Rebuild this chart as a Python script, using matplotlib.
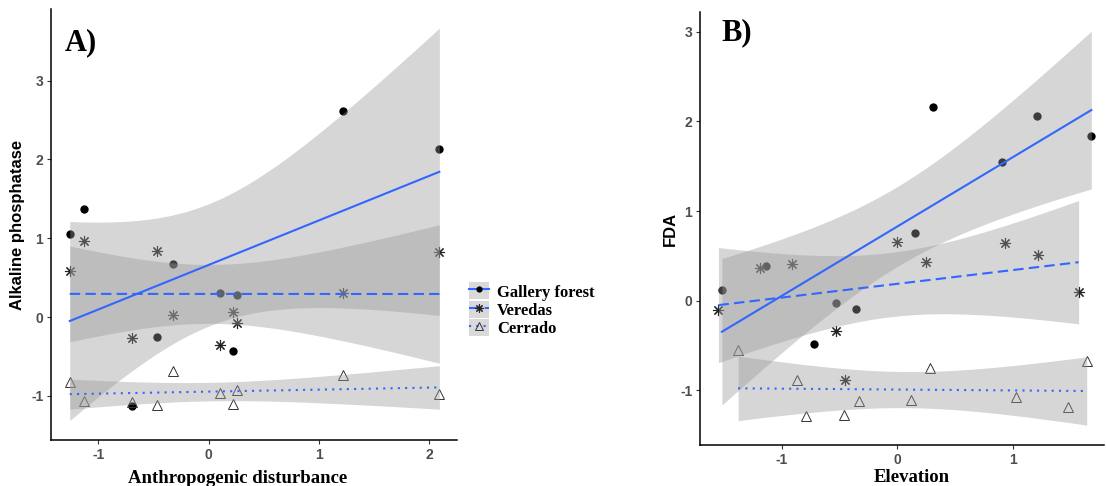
import numpy as np
import matplotlib.pyplot as plt
from matplotlib.lines import Line2D
from matplotlib.patches import Patch
from matplotlib.legend_handler import HandlerTuple

plt.rcParams['axes.unicode_minus'] = False

# A) alkaline phosphatase vs anthropogenic disturbance (same sites for all habitats)
dist_x = [-1.26, -1.13, -0.70, -0.47, -0.32, 0.10, 0.22, 0.26, 1.22, 2.09]
alp_gallery = [1.06, 1.37, -1.13, -0.25, 0.67, 0.31, -0.43, 0.28, 2.62, 2.13]
alp_veredas = [0.59, 0.97, -0.27, 0.84, 0.03, -0.35, 0.07, -0.07, 0.31, 0.82]
alp_cerrado = [-0.82, -1.06, -1.08, -1.12, -0.69, -0.96, -1.10, -0.93, -0.73, -0.97]

# B) FDA vs elevation
elev_gallery = [0.31, 1.21, 1.68, 0.91, 0.15, -1.52, -1.14, -0.53, -0.36, -0.72]
fda_gallery = [2.16, 2.06, 1.84, 1.55, 0.75, 0.12, 0.39, -0.03, -0.09, -0.48]
elev_veredas = [-1.55, -1.19, -0.91, -0.53, -0.45, 0.00, 0.25, 0.93, 1.22, 1.57]
fda_veredas = [-0.10, 0.36, 0.41, -0.34, -0.88, 0.65, 0.43, 0.64, 0.51, 0.10]
elev_cerrado = [-1.38, -0.87, -0.79, -0.46, -0.33, 0.12, 0.28, 1.03, 1.48, 1.64]
fda_cerrado = [-0.55, -0.89, -1.29, -1.27, -1.12, -1.11, -0.75, -1.08, -1.19, -0.67]

habitats = ['Gallery forest', 'Veredas', 'Cerrado']

BLUE = '#3366FF'
T975 = 2.306  # t quantile, 8 df
SERIF = 'Liberation Serif'
SANS = 'Liberation Sans'

styles = {
    'Gallery forest': dict(marker='o', ms=6, mfc='black', mec='black', mew=0, ls='-'),
    'Veredas': dict(marker=(8, 2, 0), ms=8, mfc='none', mec='#222222', mew=0.8, ls=(0, (5, 2.5))),
    'Cerrado': dict(marker='^', ms=7, mfc='none', mec='#333333', mew=0.7, ls=(0, (1, 2.5))),
}


def smooth(ax, x, y, ls):
    # linear fit with 95% confidence band
    x = np.asarray(x)
    y = np.asarray(y)
    n = len(x)
    b, a = np.polyfit(x, y, 1)
    xs = np.linspace(x.min(), x.max(), 100)
    fit = a + b * xs
    resid = y - (a + b * x)
    s = np.sqrt(np.sum(resid ** 2) / (n - 2))
    se = s * np.sqrt(1 / n + (xs - x.mean()) ** 2 / np.sum((x - x.mean()) ** 2))
    ax.fill_between(xs, fit - T975 * se, fit + T975 * se, color='#999999',
                    alpha=0.4, lw=0, zorder=2)
    ax.plot(xs, fit, color=BLUE, lw=1.5, ls=ls, zorder=3)


def draw_panel(ax, groups):
    for name, (x, y) in zip(habitats, groups):
        st = styles[name]
        ax.plot(x, y, ls='none', marker=st['marker'], ms=st['ms'], mfc=st['mfc'],
                mec=st['mec'], mew=st['mew'], zorder=1)
    for name, (x, y) in zip(habitats, groups):
        smooth(ax, x, y, styles[name]['ls'])
    for side in ['top', 'right']:
        ax.spines[side].set_visible(False)
    for side in ['left', 'bottom']:
        ax.spines[side].set_linewidth(1.1)
    ax.tick_params(length=3, width=0.8, color='#333333', pad=2.5,
                   labelsize=10, labelcolor='#4d4d4d')


def style_ticklabels(ax):
    for lab in ax.get_xticklabels() + ax.get_yticklabels():
        lab.set_fontfamily(SANS)
        lab.set_fontweight('bold')


fig = plt.figure(figsize=(11.06, 4.86), dpi=100)

axA = fig.add_axes([51 / 1106, 46 / 486, 406 / 1106, 431 / 486])
draw_panel(axA, [(dist_x, alp_gallery), (dist_x, alp_veredas), (dist_x, alp_cerrado)])
axA.set_xlim(-1.43, 2.25)
axA.set_ylim(-1.56, 3.91)
axA.set_xticks([-1, 0, 1, 2])
axA.set_yticks([-1, 0, 1, 2, 3])
style_ticklabels(axA)
axA.set_xlabel('Anthropogenic disturbance', fontfamily=SERIF, fontweight='bold', fontsize=13.5)
axA.xaxis.set_label_coords(0.46, -0.07)
axA.set_ylabel('Alkaline phosphatase', fontfamily=SANS, fontweight='bold', fontsize=12)
axA.yaxis.set_label_coords(-0.064, 0.5)
axA.text(0.034, 0.955, 'A)', transform=axA.transAxes, fontfamily=SERIF,
         fontweight='bold', fontsize=22, va='top', ha='left')

axB = fig.add_axes([700 / 1106, 41 / 486, 404 / 1106, 433 / 486])
draw_panel(axB, [(elev_gallery, fda_gallery), (elev_veredas, fda_veredas),
                 (elev_cerrado, fda_cerrado)])
axB.set_xlim(-1.71, 1.79)
axB.set_ylim(-1.61, 3.22)
axB.set_xticks([-1, 0, 1])
axB.set_yticks([-1, 0, 1, 2, 3])
style_ticklabels(axB)
axB.set_xlabel('Elevation', fontfamily=SERIF, fontweight='bold', fontsize=13.5)
axB.xaxis.set_label_coords(0.524, -0.055)
axB.set_ylabel('FDA', fontfamily=SANS, fontweight='bold', fontsize=12)
axB.yaxis.set_label_coords(-0.055, 0.5)
axB.text(0.054, 0.986, 'B)', transform=axB.transAxes, fontfamily=SERIF,
         fontweight='bold', fontsize=22, va='top', ha='left')

# shared legend between the panels
handles = []
for name in habitats:
    st = styles[name]
    key = Patch(facecolor='#d9d9d9', edgecolor='none')
    ln = Line2D([], [], color=BLUE, lw=1.5, ls=st['ls'], marker=st['marker'],
                ms=st['ms'] * 0.75, mfc=st['mfc'], mec=st['mec'], mew=st['mew'])
    handles.append((key, ln))
fig.legend(handles, habitats, loc='upper left', bbox_to_anchor=(461 / 1106, 1 - 274 / 486),
           frameon=False, borderpad=0, labelspacing=0.0, handlelength=1.2,
           handleheight=1.2, handletextpad=0.45,
           handler_map={tuple: HandlerTuple(ndivide=1)},
           prop=dict(family=SERIF, weight='bold', size=12))

fig.savefig('out.png', dpi=100)
